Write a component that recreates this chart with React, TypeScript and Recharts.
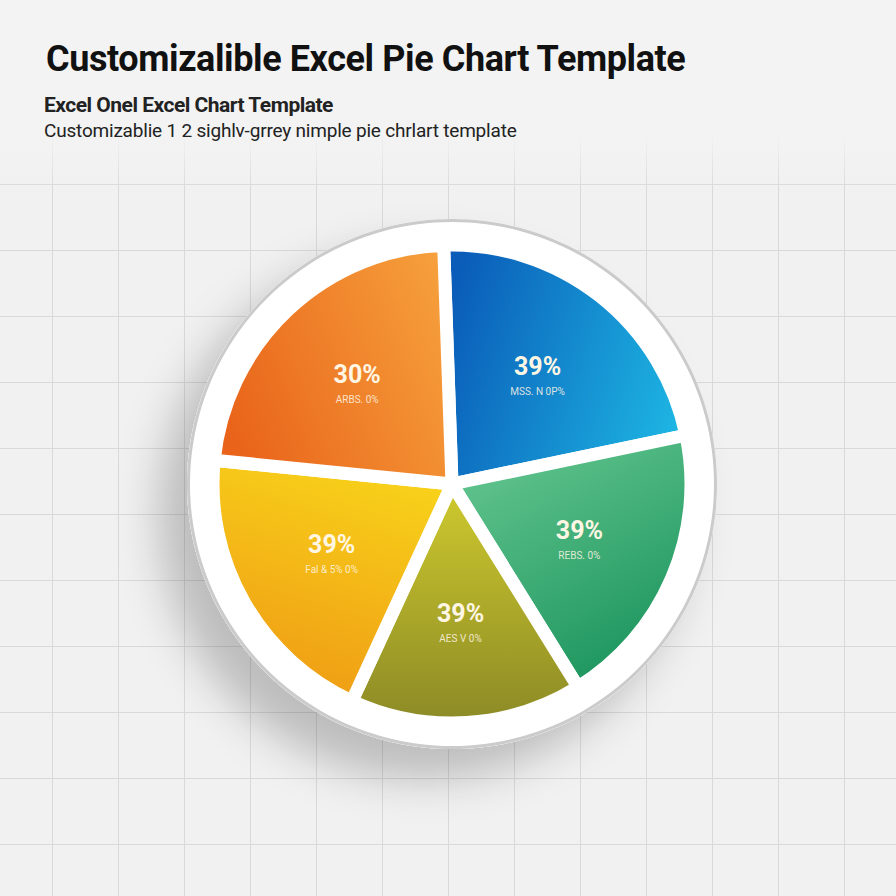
import { PieChart, Pie, Cell } from 'recharts'

const sliceNames = ['Blue', 'Green', 'Lime', 'Yellow', 'Orange']
const sliceValues = [78, 68, 55, 69, 80]
const sliceLabels = ['39%', '39%', '39%', '39%', '30%']
const sliceSubLabels = ['MSS. N 0P%', 'REBS. 0%', 'AES V 0%', 'Fal & 5% 0%', 'ARBS. 0%']

const gradients = [
  { id: 'gBlue', from: '#0a5cb8', to: '#1db4e2', x1: 0, y1: 0.3, x2: 1, y2: 0.6 },
  { id: 'gGreen', from: '#62c48e', to: '#17915a', x1: 0.3, y1: 0, x2: 0.8, y2: 1 },
  { id: 'gLime', from: '#cfca2e', to: '#8c8a26', x1: 0.5, y1: 0, x2: 0.5, y2: 1 },
  { id: 'gYellow', from: '#f8d21a', to: '#ef9a14', x1: 0.6, y1: 0, x2: 0.3, y2: 1 },
  { id: 'gOrange', from: '#e9641a', to: '#f6a03c', x1: 0, y1: 0.6, x2: 1, y2: 0.2 },
]

const pieData = sliceNames.map((name, i) => ({
  name,
  value: sliceValues[i],
  label: sliceLabels[i],
  sub: sliceSubLabels[i],
}))

const plateData = [{ name: 'plate', value: 1 }]

const RADIAN = Math.PI / 180

function renderLabel(props: any) {
  const { cx, cy, midAngle, outerRadius, index } = props
  const r = outerRadius * 0.58
  const x = cx + r * Math.cos(-midAngle * RADIAN)
  const y = cy + r * Math.sin(-midAngle * RADIAN)
  return (
    <g>
      <text
        x={x}
        y={y}
        textAnchor="middle"
        fill="#fff6e4"
        fontFamily="Roboto, sans-serif"
        fontWeight={700}
        fontSize={25}
      >
        {pieData[index].label}
      </text>
      <text
        x={x}
        y={y + 20}
        textAnchor="middle"
        fill="#fff6e4"
        fillOpacity={0.85}
        fontFamily="Roboto, sans-serif"
        fontSize={10}
      >
        {pieData[index].sub}
      </text>
    </g>
  )
}

export default function App() {
  return (
    <div
      style={{
        position: 'absolute',
        left: 0,
        top: 0,
        width: 896,
        height: 896,
        overflow: 'hidden',
        background: '#f1f1f1',
        backgroundImage:
          'linear-gradient(to right, #d9d9d9 1.5px, transparent 1.5px), linear-gradient(to bottom, #d9d9d9 1.5px, transparent 1.5px)',
        backgroundSize: '66px 66px',
        backgroundPosition: '52px 52px',
        fontFamily: 'Roboto, sans-serif',
      }}
    >
      <div
        style={{
          position: 'absolute',
          left: 0,
          top: 0,
          width: 896,
          height: 190,
          background: 'linear-gradient(to bottom, #f3f3f3 70%, rgba(243,243,243,0))',
        }}
      />
      <div
        style={{
          position: 'absolute',
          left: 46,
          top: 38,
          fontSize: 36,
          fontWeight: 700,
          color: '#111',
          letterSpacing: -0.4,
          whiteSpace: 'nowrap',
        }}
      >
        Customizalible Excel Pie Chart Template
      </div>
      <div
        style={{
          position: 'absolute',
          left: 44,
          top: 93,
          fontSize: 21,
          fontWeight: 700,
          color: '#222',
          letterSpacing: -0.5,
          whiteSpace: 'nowrap',
        }}
      >
        Excel Onel Excel Chart Template
      </div>
      <div
        style={{
          position: 'absolute',
          left: 44,
          top: 119,
          fontSize: 19,
          color: '#222',
          letterSpacing: -0.2,
          whiteSpace: 'nowrap',
        }}
      >
        Customizablie 1 2 sighlv-grrey nimple pie chrlart template
      </div>
      <div style={{ position: 'absolute', left: 0, top: 0 }}>
        <PieChart width={896} height={896}>
          <defs>
            <filter id="plateShadow" x="-50%" y="-50%" width="200%" height="200%">
              <feDropShadow dx={-28} dy={30} stdDeviation={22} floodColor="#000" floodOpacity={0.22} />
            </filter>
            {gradients.map((g) => (
              <linearGradient key={g.id} id={g.id} x1={g.x1} y1={g.y1} x2={g.x2} y2={g.y2}>
                <stop offset="0%" stopColor={g.from} />
                <stop offset="100%" stopColor={g.to} />
              </linearGradient>
            ))}
          </defs>
          <Pie
            data={plateData}
            dataKey="value"
            cx={447}
            cy={479}
            outerRadius={265}
            fill="#ffffff"
            stroke="none"
            style={{ filter: 'url(#plateShadow)' }}
            isAnimationActive={false}
          />
          <Pie
            data={plateData}
            dataKey="value"
            cx={447}
            cy={479}
            innerRadius={262}
            outerRadius={265}
            fill="#cbcbcb"
            stroke="none"
            isAnimationActive={false}
          />
          <Pie
            data={pieData}
            dataKey="value"
            cx={447}
            cy={479}
            outerRadius={239}
            startAngle={92}
            endAngle={-268}
            stroke="#ffffff"
            strokeWidth={13}
            strokeLinejoin="round"
            label={renderLabel}
            labelLine={false}
            isAnimationActive={false}
          >
            {pieData.map((d, i) => (
              <Cell key={d.name} fill={`url(#${gradients[i].id})`} />
            ))}
          </Pie>
        </PieChart>
      </div>
    </div>
  )
}
